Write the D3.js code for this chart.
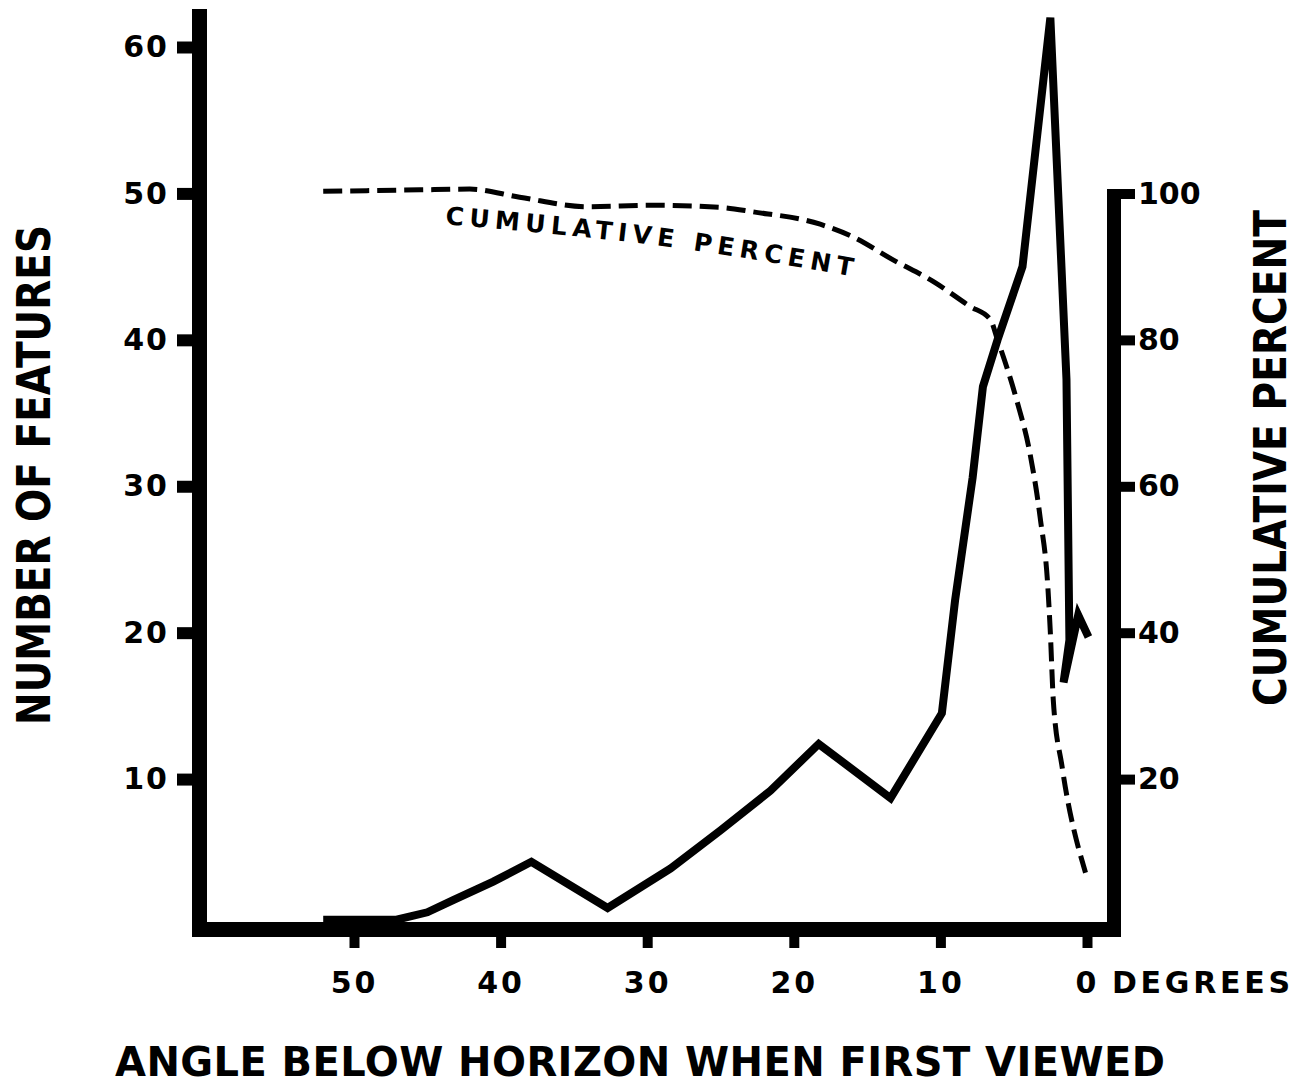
<!DOCTYPE html>
<html>
<head>
<meta charset="utf-8">
<script src="https://cdn.jsdelivr.net/npm/d3@7"></script>
<style>
  body { margin: 0; background: #fff; }
  text { font-family: "DejaVu Sans", sans-serif; font-weight: bold; fill: #000; }
</style>
</head>
<body>
<div id="chart"></div>
<script>
// number of features by angle below horizon (solid line)
var featureAngles = [52.1, 47.1, 45.0, 43.2, 40.5, 37.9, 32.7, 28.4, 25.0, 21.6, 18.3, 13.4, 9.9, 9.0, 7.8, 7.1, 6.1, 4.4, 2.5, 1.4, 1.2, 1.6, 0.6, -0.1];
var featureCounts = [0.4, 0.4, 0.9, 1.75, 3.0, 4.35, 1.2, 3.9, 6.5, 9.2, 12.4, 8.7, 14.5, 22.2, 30.6, 36.8, 40.0, 45.0, 62.0, 37.3, 19.5, 16.6, 21.2, 19.7];

// cumulative percent (dashed line)
var cumAngles = [52.1, 45.5, 42.1, 38.7, 34.1, 29.6, 25.0, 22.8, 18.2, 16.0, 13.2, 10.5, 8.0, 6.6, 6.1, 4.8, 3.9, 3.2, 2.66, 2.5, 2.3, 1.7, 0.1];
var cumPercent = [100.3, 100.5, 100.6, 99.5, 98.2, 98.4, 98.1, 97.5, 95.8, 94.1, 90.9, 88.0, 84.6, 82.8, 80.0, 71.8, 64.6, 55.8, 45.9, 40.0, 30.8, 21.7, 7.2];

// baseline of the curve label, in data units
var labelAngles = [43.8, 27.8, 15.5];
var labelPercents = [95.8, 92.5, 88.5];

var xTicks = [50, 40, 30, 20, 10, 0];
var yLeftTicks = [10, 20, 30, 40, 50, 60];
var yRightTicks = [20, 40, 60, 80, 100];

var width = 1303, height = 1091;

var svg = d3.select("#chart")
  .append("svg")
    .attr("width", width)
    .attr("height", height);

// scales
var x = d3.scaleLinear().domain([50, 0]).range([354, 1087]);
var yL = d3.scaleLinear().domain([0, 60]).range([925.5, 47]);
var yR = d3.scaleLinear().domain([0, 100]).range([925.5, 193.5]);

// heavy frame lines
var leftX = 199.5, bottomY = 929.5, rightX = 1114;
svg.append("line")
  .attr("x1", leftX).attr("x2", leftX)
  .attr("y1", 9).attr("y2", bottomY + 7.5)
  .style("stroke", "#000").style("stroke-width", 15);
svg.append("line")
  .attr("x1", leftX - 7.5).attr("x2", rightX + 7)
  .attr("y1", bottomY).attr("y2", bottomY)
  .style("stroke", "#000").style("stroke-width", 15);
svg.append("line")
  .attr("x1", rightX).attr("x2", rightX)
  .attr("y1", 189).attr("y2", bottomY + 7.5)
  .style("stroke", "#000").style("stroke-width", 14);

function tickText(g, spacing) {
  g.selectAll("text").style("font-size", "30px").style("letter-spacing", spacing)
    .style("font-family", "DejaVu Sans").style("font-weight", "bold");
}

// left axis
svg.append("g")
  .attr("transform", "translate(" + (leftX - 7.5) + ",0)")
  .call(d3.axisLeft(yL).tickValues(yLeftTicks).tickSize(15).tickPadding(8))
  .call(function(g) { g.select(".domain").remove(); })
  .call(function(g) {
    g.selectAll(".tick line").style("stroke-width", 12);
    tickText(g, "2px");
  });

// bottom axis
svg.append("g")
  .attr("transform", "translate(0," + (bottomY + 7.5) + ")")
  .call(d3.axisBottom(x).tickValues(xTicks).tickSize(11).tickPadding(24))
  .call(function(g) { g.select(".domain").remove(); })
  .call(function(g) {
    g.selectAll(".tick line").style("stroke-width", 10);
    tickText(g, "3px");
  });

// right axis
svg.append("g")
  .attr("transform", "translate(" + (rightX + 7) + ",0)")
  .call(d3.axisRight(yR).tickValues(yRightTicks).tickSize(14).tickPadding(3))
  .call(function(g) { g.select(".domain").remove(); })
  .call(function(g) {
    g.selectAll(".tick line").style("stroke-width", 10);
    tickText(g, "0px");
  });

// DEGREES unit label
svg.append("text")
  .attr("x", 1112).attr("y", bottomY + 7.5 + 35)
  .attr("dy", "0.71em")
  .attr("textLength", 178).attr("lengthAdjust", "spacing")
  .style("font-size", "30px")
  .text("DEGREES");

// axis titles
svg.append("text")
  .attr("x", 640).attr("y", 1076)
  .attr("text-anchor", "middle")
  .attr("textLength", 1050).attr("lengthAdjust", "spacing")
  .style("font-size", "40px")
  .text("ANGLE BELOW HORIZON WHEN FIRST VIEWED");

svg.append("text")
  .attr("transform", "translate(50,475) rotate(-90)")
  .attr("text-anchor", "middle")
  .attr("textLength", 500).attr("lengthAdjust", "spacingAndGlyphs")
  .style("font-size", "46px")
  .text("NUMBER OF FEATURES");

svg.append("text")
  .attr("transform", "translate(1286,458) rotate(-90)")
  .attr("text-anchor", "middle")
  .attr("textLength", 496).attr("lengthAdjust", "spacingAndGlyphs")
  .style("font-size", "44px")
  .text("CUMULATIVE PERCENT");

// solid line: number of features
var featureData = featureAngles.map(function(a, i) { return [a, featureCounts[i]]; });
svg.append("path")
  .datum(featureData)
  .attr("d", d3.line()
    .x(function(d) { return x(d[0]); })
    .y(function(d) { return yL(d[1]); }))
  .style("fill", "none")
  .style("stroke", "#000")
  .style("stroke-width", 8)
  .style("stroke-linejoin", "miter");

// dashed line: cumulative percent
var cumData = cumAngles.map(function(a, i) { return [a, cumPercent[i]]; });
svg.append("path")
  .datum(cumData)
  .attr("d", d3.line()
    .curve(d3.curveMonotoneX)
    .x(function(d) { return x(d[0]); })
    .y(function(d) { return yR(d[1]); }))
  .style("fill", "none")
  .style("stroke", "#000")
  .style("stroke-width", 5)
  .style("stroke-dasharray", "19,8");

// curved label under the dashed line
var labelData = labelAngles.map(function(a, i) { return [a, labelPercents[i]]; });
svg.append("defs").append("path")
  .attr("id", "labelPath")
  .attr("d", d3.line()
    .curve(d3.curveMonotoneX)
    .x(function(d) { return x(d[0]); })
    .y(function(d) { return yR(d[1]); })(labelData));

svg.append("text")
  .style("font-size", "25px")
  .style("letter-spacing", "5.5px")
  .append("textPath")
    .attr("href", "#labelPath")
    .text("CUMULATIVE PERCENT");
</script>
</body>
</html>
